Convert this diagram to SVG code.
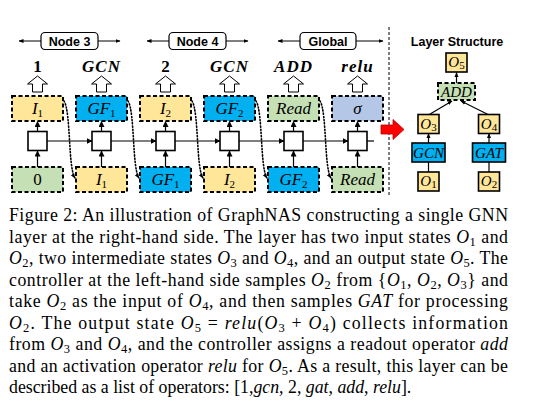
<svg xmlns="http://www.w3.org/2000/svg" width="533" height="410" viewBox="0 0 533 410">
<style>
.box{stroke:#000;stroke-width:2;stroke-dasharray:4 2.5}
.sq{fill:#fff;stroke:#000;stroke-width:1.6}
.sol{stroke:#000;stroke-width:1.6}
.y{fill:#FFE699}.b{fill:#00B0F0}.g{fill:#C5E0B4}.p{fill:#B4C7E7}
.ln{stroke:#000;stroke-width:1.2;fill:none}
.dot{stroke:#000;stroke-width:1.6;fill:none;stroke-dasharray:1.2 2;stroke-linecap:round}
.bl{font-family:"Liberation Serif",serif;font-style:italic;font-size:17px;text-anchor:middle}
.up{font-style:normal}
.sl{font-family:"Liberation Serif",serif;font-style:italic;font-size:15px;text-anchor:middle}
.sub{font-size:11px;font-style:normal}
.hd{font-family:"Liberation Serif",serif;font-weight:bold;font-style:italic;font-size:17px;text-anchor:middle;letter-spacing:1px}
.hn{font-family:"Liberation Serif",serif;font-weight:bold;font-size:17px;text-anchor:middle}
.nl{font-family:"Liberation Sans",sans-serif;font-weight:bold;font-size:12.5px;text-anchor:middle}
.tag{fill:#fff;stroke:#000;stroke-width:1.2}
.ho{fill:#fff;stroke:#000;stroke-width:1}
.cap{font-family:"Liberation Serif",serif;font-size:17.8px}
.i{font-style:italic}
.s{font-size:12.5px}
</style>
<defs>
<marker id="ah" markerWidth="6" markerHeight="6" refX="5.5" refY="3" orient="auto-start-reverse" markerUnits="userSpaceOnUse"><path d="M0,0 L6,3 L0,6 z" fill="#000"/></marker>
<marker id="sm" markerWidth="5" markerHeight="5" refX="4.5" refY="2.5" orient="auto-start-reverse" markerUnits="userSpaceOnUse"><path d="M0,0.5 L5,2.5 L0,4.5 z" fill="#000"/></marker>
</defs>

<!-- header tags -->
<g id="tag-node3">
<line class="ln" x1="19" y1="41" x2="120" y2="41" marker-start="url(#sm)" marker-end="url(#sm)"/>
<rect class="tag" x="41" y="32.5" width="57" height="17" rx="4"/>
<text class="nl" x="69.5" y="45.5">Node 3</text>
</g>
<g id="tag-node4">
<line class="ln" x1="147" y1="41" x2="248" y2="41" marker-start="url(#sm)" marker-end="url(#sm)"/>
<rect class="tag" x="169" y="32.5" width="57" height="17" rx="4"/>
<text class="nl" x="197.5" y="45.5">Node 4</text>
</g>
<g id="tag-global">
<line class="ln" x1="278" y1="41" x2="383" y2="41" marker-start="url(#sm)" marker-end="url(#sm)"/>
<rect class="tag" x="300" y="32.5" width="56" height="17" rx="4"/>
<text class="nl" x="328" y="45.5">Global</text>
</g>

<!-- output labels -->
<g id="outputs">
<text class="hn" x="37.5" y="72">1</text>
<text class="hd" x="101.5" y="72">GCN</text>
<text class="hn" x="165.5" y="72">2</text>
<text class="hd" x="229.5" y="72">GCN</text>
<text class="hd" x="293.5" y="72">ADD</text>
<text class="hd" x="357.5" y="72">relu</text>
<path class="ho" d="M37.5,76 L47.5,84 L42.5,84 L42.5,92 L32.5,92 L32.5,84 L27.5,84 Z"/>
<path class="ho" d="M101.5,76 L111.5,84 L106.5,84 L106.5,92 L96.5,92 L96.5,84 L91.5,84 Z"/>
<path class="ho" d="M165.5,76 L175.5,84 L170.5,84 L170.5,92 L160.5,92 L160.5,84 L155.5,84 Z"/>
<path class="ho" d="M229.5,76 L239.5,84 L234.5,84 L234.5,92 L224.5,92 L224.5,84 L219.5,84 Z"/>
<path class="ho" d="M293.5,76 L303.5,84 L298.5,84 L298.5,92 L288.5,92 L288.5,84 L283.5,84 Z"/>
<path class="ho" d="M357.5,76 L367.5,84 L362.5,84 L362.5,92 L352.5,92 L352.5,84 L347.5,84 Z"/>
</g>

<!-- top boxes -->
<g id="top-I1"><rect class="box y" x="12" y="96" width="51" height="25"/><text class="bl" x="37.5" y="114">I<tspan class="sub" dy="3">1</tspan></text></g>
<g id="top-GF1"><rect class="box b" x="76" y="96" width="51" height="25"/><text class="bl" x="101.5" y="114">GF<tspan class="sub" dy="3">1</tspan></text></g>
<g id="top-I2"><rect class="box y" x="140" y="96" width="51" height="25"/><text class="bl" x="165.5" y="114">I<tspan class="sub" dy="3">2</tspan></text></g>
<g id="top-GF2"><rect class="box b" x="204" y="96" width="51" height="25"/><text class="bl" x="229.5" y="114">GF<tspan class="sub" dy="3">2</tspan></text></g>
<g id="top-Read"><rect class="box g" x="268" y="96" width="51" height="25"/><text class="bl" x="293.5" y="114">Read</text></g>
<g id="top-sigma"><rect class="box p" x="332" y="96" width="51" height="25"/><text class="bl" x="357.5" y="114">σ</text></g>

<!-- cells -->
<g id="cell1"><rect class="sq" x="28" y="131.5" width="19" height="19"/></g>
<g id="cell2"><rect class="sq" x="92" y="131.5" width="19" height="19"/></g>
<g id="cell3"><rect class="sq" x="156" y="131.5" width="19" height="19"/></g>
<g id="cell4"><rect class="sq" x="220" y="131.5" width="19" height="19"/></g>
<g id="cell5"><rect class="sq" x="284" y="131.5" width="19" height="19"/></g>
<g id="cell6"><rect class="sq" x="348" y="131.5" width="19" height="19"/></g>

<!-- bottom boxes -->
<g id="bot-0"><rect class="box g" x="12" y="167" width="51" height="25"/><text class="bl up" x="37.5" y="185">0</text></g>
<g id="bot-I1"><rect class="box y" x="76" y="167" width="51" height="25"/><text class="bl" x="101.5" y="185">I<tspan class="sub" dy="3">1</tspan></text></g>
<g id="bot-GF1"><rect class="box b" x="140" y="167" width="51" height="25"/><text class="bl" x="165.5" y="185">GF<tspan class="sub" dy="3">1</tspan></text></g>
<g id="bot-I2"><rect class="box y" x="204" y="167" width="51" height="25"/><text class="bl" x="229.5" y="185">I<tspan class="sub" dy="3">2</tspan></text></g>
<g id="bot-GF2"><rect class="box b" x="268" y="167" width="51" height="25"/><text class="bl" x="293.5" y="185">GF<tspan class="sub" dy="3">2</tspan></text></g>
<g id="bot-Read"><rect class="box g" x="332" y="167" width="51" height="25"/><text class="bl" x="357.5" y="185">Read</text></g>

<!-- connectors -->
<g id="connectors">
<g id="rnn-edges">
<line class="ln" x1="47" y1="141" x2="92" y2="141" marker-end="url(#ah)"/>
<line class="ln" x1="111" y1="141" x2="156" y2="141" marker-end="url(#ah)"/>
<line class="ln" x1="175" y1="141" x2="220" y2="141" marker-end="url(#ah)"/>
<line class="ln" x1="239" y1="141" x2="284" y2="141" marker-end="url(#ah)"/>
<line class="ln" x1="303" y1="141" x2="348" y2="141" marker-end="url(#ah)"/>
<line class="ln" x1="367" y1="141" x2="374" y2="141"/>
<line class="ln" x1="37.5" y1="167" x2="37.5" y2="151" marker-end="url(#ah)"/>
<line class="ln" x1="101.5" y1="167" x2="101.5" y2="151" marker-end="url(#ah)"/>
<line class="ln" x1="165.5" y1="167" x2="165.5" y2="151" marker-end="url(#ah)"/>
<line class="ln" x1="229.5" y1="167" x2="229.5" y2="151" marker-end="url(#ah)"/>
<line class="ln" x1="293.5" y1="167" x2="293.5" y2="151" marker-end="url(#ah)"/>
<line class="ln" x1="357.5" y1="167" x2="357.5" y2="151" marker-end="url(#ah)"/>
<line class="ln" x1="37.5" y1="131.5" x2="37.5" y2="121.5" marker-end="url(#ah)"/>
<line class="ln" x1="101.5" y1="131.5" x2="101.5" y2="121.5" marker-end="url(#ah)"/>
<line class="ln" x1="165.5" y1="131.5" x2="165.5" y2="121.5" marker-end="url(#ah)"/>
<line class="ln" x1="229.5" y1="131.5" x2="229.5" y2="121.5" marker-end="url(#ah)"/>
<line class="ln" x1="293.5" y1="131.5" x2="293.5" y2="121.5" marker-end="url(#ah)"/>
<line class="ln" x1="357.5" y1="131.5" x2="357.5" y2="121.5" marker-end="url(#ah)"/>
</g>
<g id="dotted-feeds">
<path class="dot" d="M64,101 C71,112 68,168 75,178" marker-end="url(#sm)"/>
<path class="dot" d="M128,101 C135,112 132,168 139,178" marker-end="url(#sm)"/>
<path class="dot" d="M192,101 C199,112 196,168 203,178" marker-end="url(#sm)"/>
<path class="dot" d="M256,101 C263,112 260,168 267,178" marker-end="url(#sm)"/>
<path class="dot" d="M320,101 C327,112 324,168 331,178" marker-end="url(#sm)"/>
</g>
<g id="layer-edges">
<line class="ln" x1="456.5" y1="83" x2="456.5" y2="72.5" marker-end="url(#sm)"/>
<line class="ln" x1="428.5" y1="115" x2="452" y2="101" marker-end="url(#sm)"/>
<line class="ln" x1="489" y1="115" x2="461" y2="101" marker-end="url(#sm)"/>
<line class="ln" x1="428.5" y1="143" x2="428.5" y2="133.5" marker-end="url(#sm)"/>
<line class="ln" x1="489" y1="143" x2="489" y2="133.5" marker-end="url(#sm)"/>
<line class="ln" x1="428.5" y1="172" x2="428.5" y2="162"/>
<line class="ln" x1="489" y1="172" x2="489" y2="162"/>
</g>
</g>

<!-- separator and red arrow -->
<line x1="389" y1="27" x2="389" y2="197" stroke="#000" stroke-width="1" stroke-dasharray="3 2"/>
<path d="M381,125 L393,125 L393,119.5 L404,129.5 L393,139.5 L393,134 L381,134 Z" fill="#F00" stroke="#B00" stroke-width="0.8"/>

<!-- layer structure -->
<text class="nl" x="457" y="46" font-size="13">Layer Structure</text>
<g id="O5"><rect class="y sol" x="446" y="53" width="21" height="19"/><text class="sl" x="456.5" y="67">O<tspan class="sub" font-size="9" dy="2">5</tspan></text></g>
<g id="ADD"><rect class="box g" x="438" y="83" width="37" height="17" stroke-width="1.6"/><text class="sl" x="456.5" y="96.5" font-size="14">ADD</text></g>
<g id="O3"><rect class="y sol" x="418" y="114.5" width="21" height="19"/><text class="sl" x="428.5" y="128.5">O<tspan class="sub" font-size="9" dy="2">3</tspan></text></g>
<g id="O4"><rect class="y sol" x="478.5" y="114.5" width="21" height="19"/><text class="sl" x="489" y="128.5">O<tspan class="sub" font-size="9" dy="2">4</tspan></text></g>
<g id="GCN"><rect class="b sol" x="412" y="143" width="33" height="19"/><text class="sl" x="428.5" y="157.5" font-size="14">GCN</text></g>
<g id="GAT"><rect class="b sol" x="472.5" y="143" width="33" height="19"/><text class="sl" x="489" y="157.5" font-size="14">GAT</text></g>
<g id="O1"><rect class="y sol" x="418" y="172" width="21" height="19"/><text class="sl" x="428.5" y="186">O<tspan class="sub" font-size="9" dy="2">1</tspan></text></g>
<g id="O2"><rect class="y sol" x="478.5" y="172" width="21" height="19"/><text class="sl" x="489" y="186">O<tspan class="sub" font-size="9" dy="2">2</tspan></text></g>

<!-- caption -->
<g id="caption" class="cap">
<text x="9" y="221" textLength="499" lengthAdjust="spacing">Figure 2:  An illustration of GraphNAS constructing a single GNN</text>
<text x="9" y="242.5" textLength="499" lengthAdjust="spacing">layer at the right-hand side.  The layer has two input states <tspan class="i">O</tspan><tspan class="s" dy="3">1</tspan><tspan dy="-3"> and</tspan></text>
<text x="9" y="264" textLength="499" lengthAdjust="spacing"><tspan class="i">O</tspan><tspan class="s" dy="3">2</tspan><tspan dy="-3">, two intermediate states </tspan><tspan class="i">O</tspan><tspan class="s" dy="3">3</tspan><tspan dy="-3"> and </tspan><tspan class="i">O</tspan><tspan class="s" dy="3">4</tspan><tspan dy="-3">, and an output state </tspan><tspan class="i">O</tspan><tspan class="s" dy="3">5</tspan><tspan dy="-3">. The</tspan></text>
<text x="9" y="285.5" textLength="499" lengthAdjust="spacing">controller at the left-hand side samples <tspan class="i">O</tspan><tspan class="s" dy="3">2</tspan><tspan dy="-3"> from {</tspan><tspan class="i">O</tspan><tspan class="s" dy="3">1</tspan><tspan dy="-3">, </tspan><tspan class="i">O</tspan><tspan class="s" dy="3">2</tspan><tspan dy="-3">, </tspan><tspan class="i">O</tspan><tspan class="s" dy="3">3</tspan><tspan dy="-3">} and</tspan></text>
<text x="9" y="307" textLength="499" lengthAdjust="spacing">take <tspan class="i">O</tspan><tspan class="s" dy="3">2</tspan><tspan dy="-3"> as the input of </tspan><tspan class="i">O</tspan><tspan class="s" dy="3">4</tspan><tspan dy="-3">, and then samples </tspan><tspan class="i">GAT</tspan> for processing</text>
<text x="9" y="328.5" textLength="499" lengthAdjust="spacing"><tspan class="i">O</tspan><tspan class="s" dy="3">2</tspan><tspan dy="-3">.  The output state </tspan><tspan class="i">O</tspan><tspan class="s" dy="3">5</tspan><tspan dy="-3">  =  </tspan><tspan class="i">relu</tspan>(<tspan class="i">O</tspan><tspan class="s" dy="3">3</tspan><tspan dy="-3"> + </tspan><tspan class="i">O</tspan><tspan class="s" dy="3">4</tspan><tspan dy="-3">) collects information</tspan></text>
<text x="9" y="350" textLength="499" lengthAdjust="spacing">from <tspan class="i">O</tspan><tspan class="s" dy="3">3</tspan><tspan dy="-3"> and </tspan><tspan class="i">O</tspan><tspan class="s" dy="3">4</tspan><tspan dy="-3">, and the controller assigns a readout operator </tspan><tspan class="i">add</tspan></text>
<text x="9" y="371.5" textLength="499" lengthAdjust="spacing">and an activation operator <tspan class="i">relu</tspan> for <tspan class="i">O</tspan><tspan class="s" dy="3">5</tspan><tspan dy="-3">. As a result, this layer can be</tspan></text>
<text x="9" y="393">described as a list of operators: [1,<tspan class="i">gcn</tspan>, 2, <tspan class="i">gat</tspan>, <tspan class="i">add</tspan>, <tspan class="i">relu</tspan>].</text>
</g>
</svg>
